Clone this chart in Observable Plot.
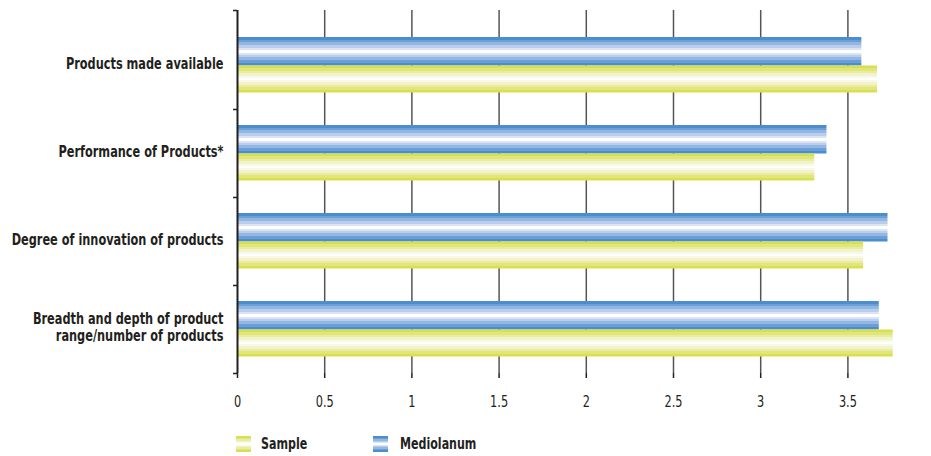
<!DOCTYPE html>
<html>
<head>
<meta charset="utf-8">
<script src="https://cdn.jsdelivr.net/npm/d3@7"></script>
<script src="https://cdn.jsdelivr.net/npm/@observablehq/plot@0.6"></script>
<style>
  html, body { margin: 0; padding: 0; background: #ffffff; }
  body { font-family: "DejaVu Sans Condensed", "DejaVu Sans", sans-serif; color: #231f20; }
  #chart { width: 931px; overflow: hidden; }
  #legend { position: relative; width: 931px; height: 36px; font-weight: bold; font-size: 15px; }
  #legend .swatch { position: absolute; top: 16px; width: 15px; height: 16px; }
  #legend .label { position: absolute; top: 15px; line-height: 18px; transform: scaleX(0.82); transform-origin: left center; white-space: nowrap; }
</style>
</head>
<body>
<div id="chart"></div>
<div id="legend"></div>
<script>
// Survey scores for product-related aspects
const categories = [
  "Products made available",
  "Performance of Products*",
  "Degree of innovation of products",
  "Breadth and depth of product range/number of products"
];
const categoryLabels = [
  "Products made available",
  "Performance of Products*",
  "Degree of innovation of products",
  "Breadth and depth of product\nrange/number of products"
];
const seriesNames = ["Sample", "Mediolanum"];
const sampleValues = [3.67, 3.31, 3.59, 3.76];
const mediolanumValues = [3.58, 3.38, 3.73, 3.68];
const xTicks = [0, 0.5, 1, 1.5, 2, 2.5, 3, 3.5, 4];

// Banded (striped) vertical gradients for the bars
const blueStripes = ["#4b8ecd", "#6c9fd8", "#93b6e3", "#b9cdec", "#dbe3f4", "#ffffff"];
const yellowStripes = ["#d9e04f", "#e1e679", "#e9eda3", "#f1f4cb", "#f8f9e6", "#ffffff"];

function stripeStops(colors) {
  // symmetric stripes: dark at the edges, white in the middle
  const edges = [0, 9.5, 19, 28.5, 38, 45, 55, 62, 71.5, 81, 90.5, 100];
  const seq = colors.concat(colors.slice(0, -1).reverse());
  const stops = [];
  seq.forEach((c, i) => {
    stops.push([edges[i], c]);
    stops.push([edges[i + 1], c]);
  });
  return stops;
}

function cssGradient(colors) {
  return "linear-gradient(to bottom, " +
    stripeStops(colors).map(([o, c]) => `${c} ${o}%`).join(", ") + ")";
}

const rows = categories.map((c, i) => ({
  category: c,
  sample: sampleValues[i],
  mediolanum: mediolanumValues[i]
}));
const labelOf = new Map(categories.map((c, i) => [c, categoryLabels[i]]));

const width = 931;
const height = 420;
const x0 = 237;
const unit = 174.4;

const defs = () => {
  const d = d3.create("svg:defs");
  [["grad-blue", blueStripes], ["grad-yellow", yellowStripes]].forEach(([id, colors]) => {
    const g = d.append("linearGradient").attr("id", id)
      .attr("x1", 0).attr("y1", 0).attr("x2", 0).attr("y2", 1);
    stripeStops(colors).forEach(([o, c]) => {
      g.append("stop").attr("offset", o + "%").attr("stop-color", c);
    });
  });
  return d.node();
};

const ink = "#231f20";
const font = '"DejaVu Sans Condensed", "DejaVu Sans", sans-serif';

const chart = Plot.plot({
  width,
  height,
  marginLeft: x0,
  marginRight: 0,
  marginTop: 10,
  marginBottom: 47,
  style: {
    fontFamily: font,
    fontSize: "15px",
    color: ink,
    background: "#ffffff",
    overflow: "hidden"
  },
  x: { domain: [0, 4], range: [x0, x0 + 4 * unit] },
  y: { domain: categories, range: [21, 373], padding: 0 },
  marks: [
    defs,
    // vertical grid lines
    Plot.ruleX(xTicks.filter(t => t > 0), { stroke: "#555555", strokeWidth: 1.5 }),
    // Mediolanum bars (upper half of each band)
    Plot.barX(rows, {
      y: "category", x: "mediolanum",
      fill: "url(#grad-blue)", insetTop: 16, insetBottom: 43.5
    }),
    // Sample bars (lower half of each band)
    Plot.barX(rows, {
      y: "category", x: "sample",
      fill: "url(#grad-yellow)", insetTop: 44.5, insetBottom: 16.5
    }),
    // left axis line
    Plot.ruleX([0], { stroke: ink, strokeWidth: 2 }),
    // category boundary ticks on the left axis
    Plot.ruleY(categories, { y: d => d, x1: 0, x2: 0, insetLeft: -4, dy: 44, stroke: ink, strokeWidth: 1.5 }),
    Plot.ruleY([categories[0]], { y: d => d, x1: 0, x2: 0, insetLeft: -4, dy: -55, stroke: ink, strokeWidth: 1.5 }),
    // bottom axis
    Plot.axisX({
      ticks: xTicks, tickFormat: d => String(d), tickSize: 5, tickPadding: 18, line: true,
      stroke: ink, strokeWidth: 1.5, fontSize: 15, fill: ink, label: null
    }),
    Plot.axisY({
      tickSize: 0, tickPadding: 14, dy: -2, tickFormat: d => labelOf.get(d),
      fontWeight: "bold", fontSize: 15, lineHeight: 1.12, fill: ink, label: null
    })
  ]
});

// narrow the tick labels horizontally, keeping each label's anchor point fixed
chart.querySelectorAll('g[aria-label="y-axis tick label"] text, g[aria-label="x-axis tick label"] text')
  .forEach(t => {
    const tr = t.getAttribute("transform") || "";
    t.setAttribute("transform", tr + " scale(0.84,1)");
  });

document.getElementById("chart").appendChild(chart);

// legend below the chart
const legend = d3.select("#legend");
const legendItems = [
  { name: seriesNames[0], colors: yellowStripes, swatchX: 236, textX: 261 },
  { name: seriesNames[1], colors: blueStripes, swatchX: 373, textX: 400 }
];
legendItems.forEach(item => {
  legend.append("div").attr("class", "swatch")
    .style("left", item.swatchX + "px")
    .style("background", cssGradient(item.colors));
  legend.append("div").attr("class", "label")
    .style("left", item.textX + "px")
    .text(item.name);
});
</script>
</body>
</html>
